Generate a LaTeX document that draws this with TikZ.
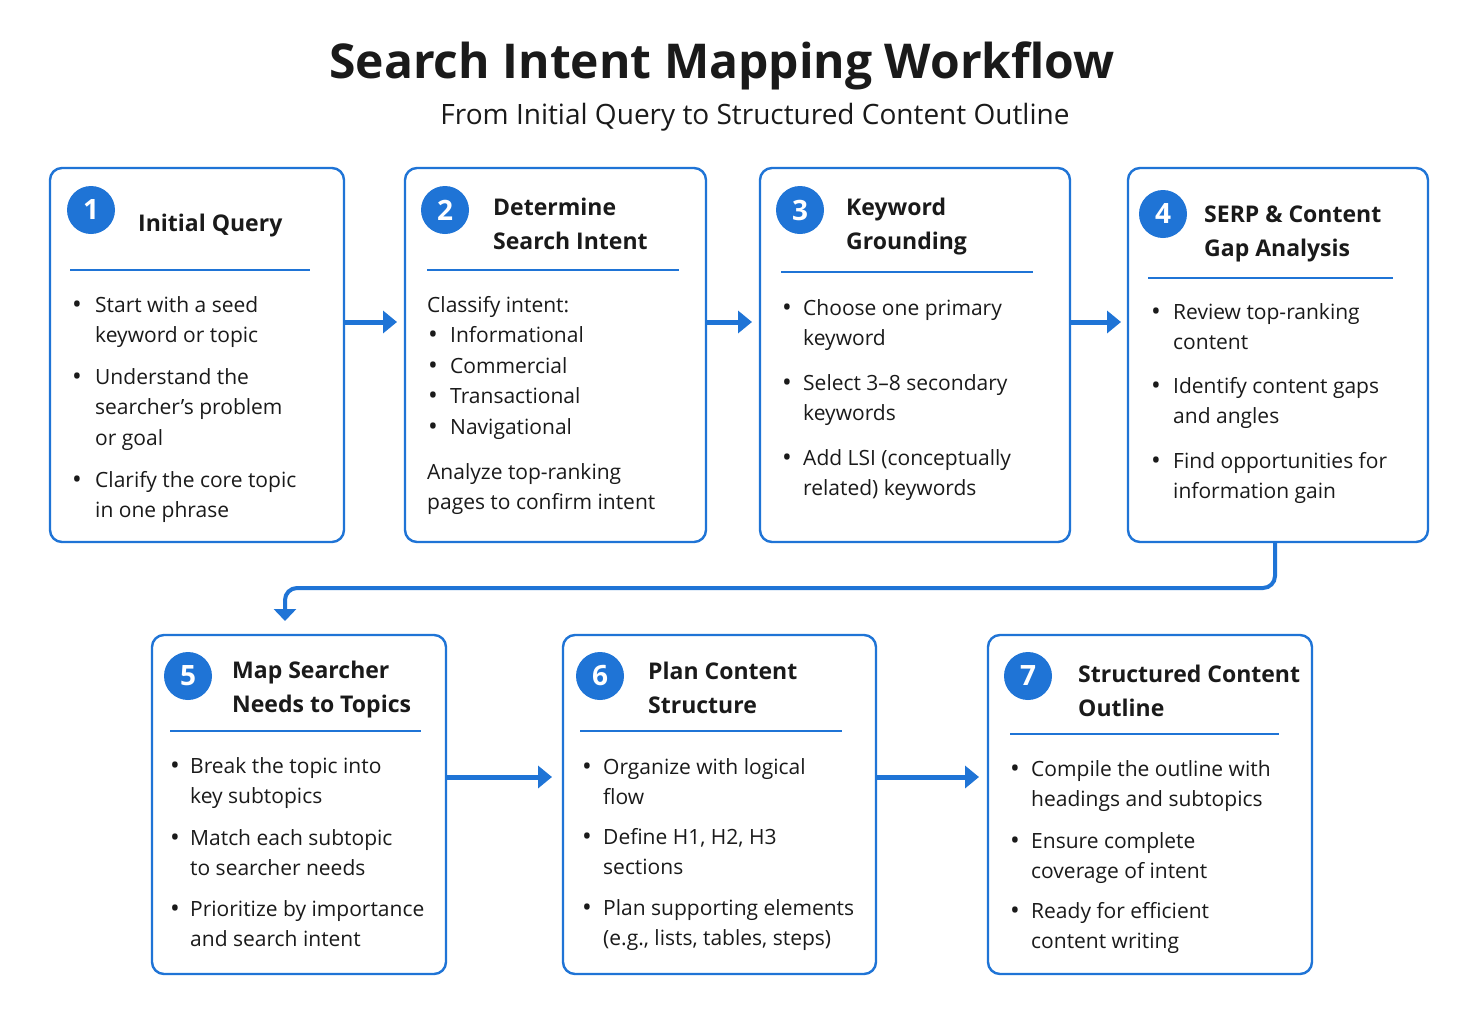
\documentclass[tikz,border=0pt]{standalone}
\usepackage{fontspec}
\setmainfont{Open Sans}
\usetikzlibrary{arrows.meta}
\definecolor{blu}{HTML}{1F74D6}
\definecolor{txt}{HTML}{1A1A1A}
\newcommand{\ml}[1]{\begin{tabular}[t]{@{}l@{}}#1\end{tabular}}
\tikzset{
  box/.style={draw=blu,line width=2.4pt,rounded corners=12pt},
  num/.style={circle,fill=blu,minimum size=48pt,inner sep=0,text=white,font=\fontsize{28}{28}\selectfont\bfseries},
  head/.style={anchor=base west,inner sep=0,text=txt,font=\fontsize{23}{34}\selectfont\bfseries},
  body/.style={anchor=base west,inner sep=0,text=txt,font=\fontsize{21}{30.5}\selectfont},
  sep/.style={draw=blu,line width=1.6pt},
  flow/.style={draw=blu,line width=5pt,-{Triangle[length=14pt,width=22pt]}},
}
\newcommand{\bl}[4]{% bullet x, text x, y(first line center), text
  \node[body,font=\fontsize{26}{30.5}\selectfont] at (#1,#3+8) {•};
  \node[body] at (#2,#3+7) {\ml{#4}};}
\begin{document}
\begin{tikzpicture}[x=1pt,y=-1pt]
\useasboundingbox (0,0) rectangle (1476,1023);
\fill[white] (0,0) rectangle (1476,1023);
\node[text=txt,font=\fontsize{48}{48}\selectfont\bfseries] (title) at (722,66) {Search Intent Mapping Workflow};
\node[text=txt,font=\fontsize{28}{28}\selectfont] (sub) at (755,117) {From Initial Query to Structured Content Outline};
% boxes
\draw[box] (50,168) rectangle (344,542);
\draw[box] (405,168) rectangle (706,542);
\draw[box] (760,168) rectangle (1070,542);
\draw[box] (1128,168) rectangle (1428,542);
\draw[box] (152,635) rectangle (446,974);
\draw[box] (563,635) rectangle (876,974);
\draw[box] (988,635) rectangle (1312,974);
\coordinate (r1) at (344,322); \coordinate (l2) at (397,322);
\coordinate (r2) at (706,322); \coordinate (l3) at (752,322);
\coordinate (r3) at (1070,322); \coordinate (l4) at (1121,322);
\coordinate (r5) at (446,777); \coordinate (l6) at (552,777);
\coordinate (r6) at (876,777); \coordinate (l7) at (979,777);
\coordinate (b4) at (1275,542); \coordinate (t5) at (285,621);
\draw[flow] (r1) -- (l2);
\draw[flow] (r2) -- (l3);
\draw[flow] (r3) -- (l4);
\draw[flow] (r5) -- (l6);
\draw[flow] (r6) -- (l7);
\draw[draw=blu,line width=4pt,rounded corners=12pt,-{Triangle[length=12pt,width=22pt]}] (b4) -- (1275,588) -- (285,588) -- (t5);
% numbers
\node[num] (n1) at (91,210) {1};
\node[num] (n2) at (445,210) {2};
\node[num] (n3) at (800,210) {3};
\node[num] (n4) at (1163,214) {4};
\node[num] (n5) at (188,676) {5};
\node[num] (n6) at (600,676) {6};
\node[num] (n7) at (1028,676) {7};
% headings
\node[head] at (138,231) {Initial Query};
\node[head] at (493,215) {\ml{Determine\\Search Intent}};
\node[head] at (846,215) {\ml{Keyword\\Grounding}};
\node[head] at (1204,222) {\ml{SERP \& Content\\Gap Analysis}};
\node[head] at (232,678) {\ml{Map Searcher\\Needs to Topics}};
\node[head] at (648,679) {\ml{Plan Content\\Structure}};
\node[head] at (1078,682) {\ml{Structured Content\\Outline}};
% separators
\draw[sep] (70,270) -- (310,270);
\draw[sep] (427,270) -- (679,270);
\draw[sep] (781,272) -- (1033,272);
\draw[sep] (1148,278) -- (1393,278);
\draw[sep] (170,731) -- (421,731);
\draw[sep] (580,731) -- (842,731);
\draw[sep] (1010,734) -- (1279,734);
% box 1
\bl{72}{95}{305}{Start with a seed\\keyword or topic}
\bl{72}{95}{377}{Understand the\\searcher’s problem\\or goal}
\bl{72}{95}{480}{Clarify the core topic\\in one phrase}
% box 2
\node[body] at (427,312) {Classify intent:};
\bl{428}{450}{335}{Informational}
\bl{428}{450}{366}{Commercial}
\bl{428}{450}{396}{Transactional}
\bl{428}{450}{427}{Navigational}
\node[body] at (427,479) {\ml{Analyze top-ranking\\pages to confirm intent}};
% box 3
\bl{782}{803}{308}{Choose one primary\\keyword}
\bl{782}{803}{383}{Select 3–8 secondary\\keywords}
\bl{782}{803}{458}{Add LSI (conceptually\\related) keywords}
% box 4
\bl{1151}{1173}{312}{Review top-ranking\\content}
\bl{1151}{1173}{386}{Identify content gaps\\and angles}
\bl{1151}{1173}{461}{Find opportunities for\\information gain}
% box 5
\bl{170}{190}{766}{Break the topic into\\key subtopics}
\bl{170}{190}{838}{Match each subtopic\\to searcher needs}
\bl{170}{190}{909}{Prioritize by importance\\and search intent}
% box 6
\bl{582}{603}{767}{Organize with logical\\flow}
\bl{582}{603}{837}{Define H1, H2, H3\\sections}
\bl{582}{603}{908}{Plan supporting elements\\(e.g., lists, tables, steps)}
% box 7
\bl{1010}{1031}{769}{Compile the outline with\\headings and subtopics}
\bl{1010}{1031}{841}{Ensure complete\\coverage of intent}
\bl{1010}{1031}{911}{Ready for efficient\\content writing}
\end{tikzpicture}
\end{document}
